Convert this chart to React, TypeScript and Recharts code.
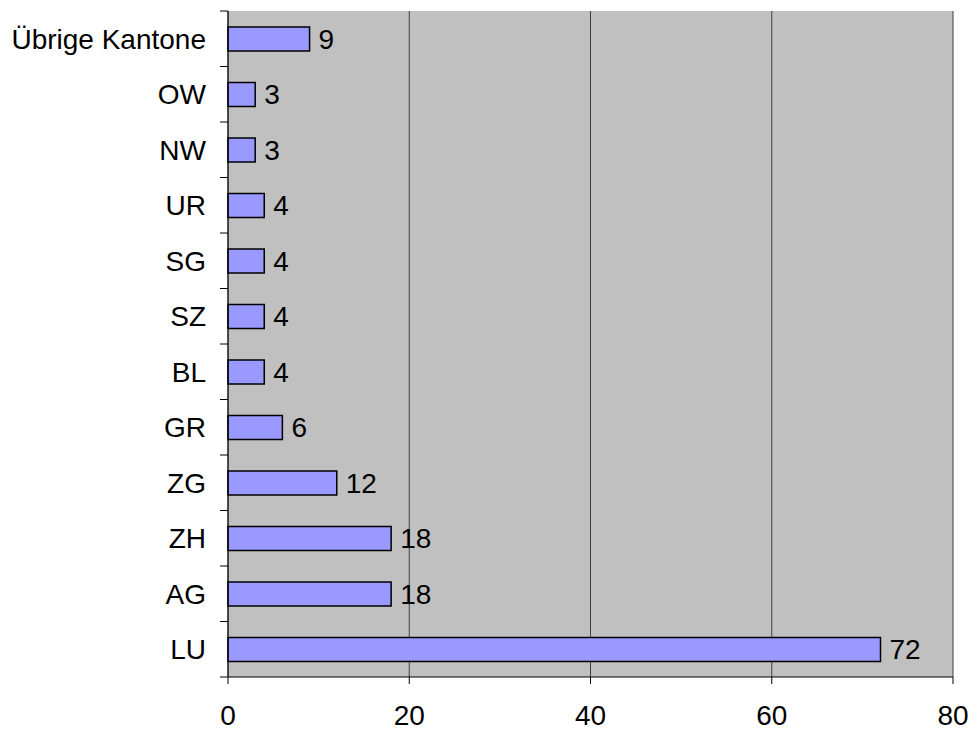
import React from 'react';
import { BarChart, Bar, XAxis, YAxis, CartesianGrid, LabelList } from 'recharts';

const cantons = ['Übrige Kantone', 'OW', 'NW', 'UR', 'SG', 'SZ', 'BL', 'GR', 'ZG', 'ZH', 'AG', 'LU'];
const counts = [9, 3, 3, 4, 4, 4, 4, 6, 12, 18, 18, 72];
const xTicks = [0, 20, 40, 60, 80];

const data = cantons.map((name, i) => ({ name, value: counts[i] }));

const FONT = '"Liberation Sans", Arial, sans-serif';
const FS = 28;

// category label plus tick marks on the band edges (like the old Excel look)
const CantonTick = (props: any) => {
  const { x, y, payload, index, visibleTicksCount } = props;
  const half = payload && payload.offset ? payload.offset : 27.75;
  const lineX = x + 14;
  return (
    <g>
      <text x={x} y={y} dy="0.35em" textAnchor="end" fill="#000" fontSize={FS} fontFamily={FONT}>
        {payload.value}
      </text>
      <line x1={lineX} x2={lineX + 8} y1={y - half} y2={y - half} stroke="#000" />
      {index === visibleTicksCount - 1 && (
        <line x1={lineX} x2={lineX + 8} y1={y + half} y2={y + half} stroke="#000" />
      )}
    </g>
  );
};

const App: React.FC = () => {
  return (
    <div style={{ position: 'absolute', left: 0, top: 0, width: 973, height: 730, background: '#fff' }}>
      <BarChart
        width={973}
        height={730}
        data={data}
        layout="vertical"
        margin={{ top: 11, right: 20, bottom: 0, left: 0 }}
      >
        <CartesianGrid fill="#C0C0C0" horizontal={false} stroke="#404040" strokeWidth={1} />
        <XAxis
          type="number"
          domain={[0, 80]}
          ticks={xTicks}
          height={53}
          stroke="#000"
          tickSize={7}
          tickMargin={21}
          tick={{ fill: '#000', fontSize: FS, fontFamily: FONT }}
        />
        <YAxis
          type="category"
          dataKey="name"
          width={228}
          stroke="#000"
          tickLine={false}
          tickSize={8}
          tickMargin={14}
          tick={<CantonTick />}
        />
        <Bar dataKey="value" fill="#9999FF" stroke="#000" strokeWidth={1.5} barSize={24} isAnimationActive={false}>
          <LabelList dataKey="value" position="right" offset={9} fill="#000" fontSize={FS} fontFamily={FONT} />
        </Bar>
      </BarChart>
    </div>
  );
};

export default App;
